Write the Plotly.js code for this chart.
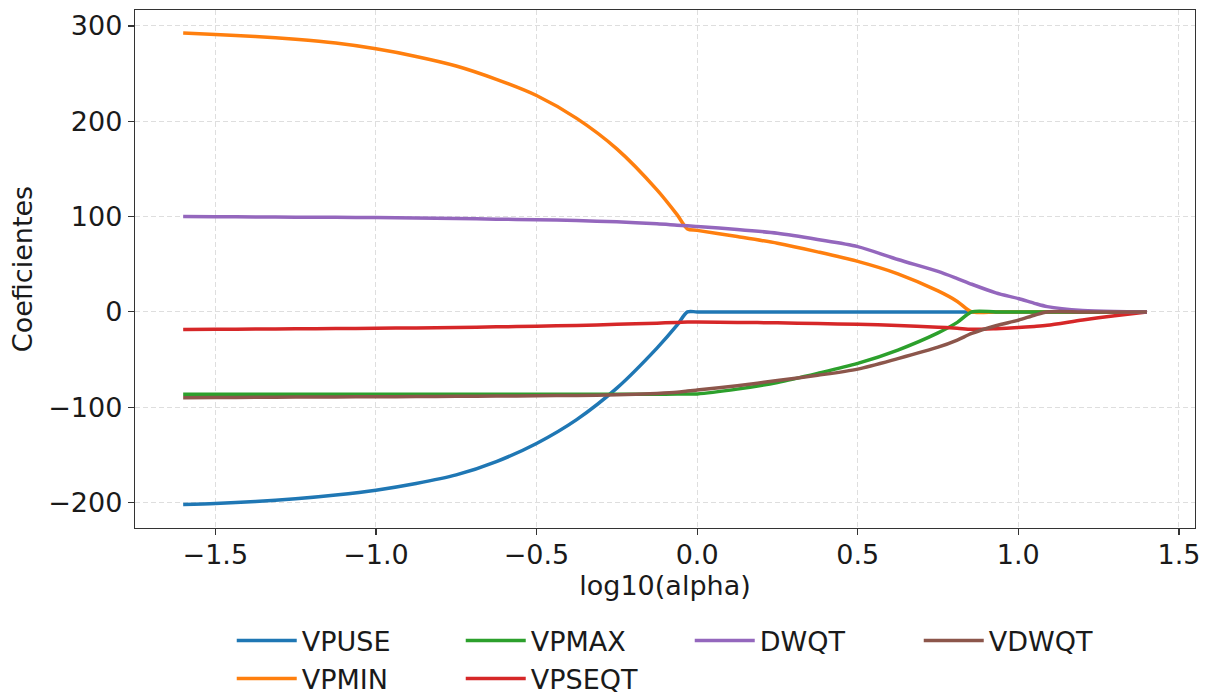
<!DOCTYPE html>
<html>
<head>
<meta charset="utf-8">
<script src="https://cdn.plot.ly/plotly-3.0.1.min.js"></script>
<style>
html,body{margin:0;padding:0;background:#fff;}
#chart{width:1207px;height:695px;}
</style>
</head>
<body>
<div id="chart"></div>
<script>
// log10(alpha) sample points
const logAlpha = [-1.6, -1.5, -1.375, -1.25, -1.125, -1.0, -0.875, -0.75, -0.625, -0.5, -0.375, -0.25, -0.125, -0.0625, -0.03,
                  0.0, 0.125, 0.25, 0.375, 0.5, 0.625, 0.75, 0.81, 0.855, 0.93, 1.0, 1.05, 1.09, 1.2, 1.3, 1.4];

const VPUSE  = [-202, -201, -199, -196, -192, -187, -180, -171, -157, -138, -113, -80, -38, -14, 0,
                0, 0, 0, 0, 0, 0, 0, 0, 0, 0, 0, 0, 0, 0, 0, 0];
const VPMIN  = [292.5, 291, 289, 286, 282, 276, 268, 258, 244, 227, 203, 171, 128, 102, 87,
                85.5, 79, 72, 63, 53, 40, 22, 11, 0, 0, 0, 0, 0, 0, 0, 0];
const VPMAX  = [-86.5, -86.5, -86.5, -86.5, -86.5, -86.5, -86.5, -86.5, -86.5, -86.5, -86.5, -86.5, -86.3, -86.2, -86,
                -86, -81, -74, -64.5, -54, -40, -22, -11, 0, 0, 0, 0, 0, 0, 0, 0];
const VPSEQT = [-18.5, -18.3, -18, -17.8, -17.5, -17.2, -16.8, -16.3, -15.7, -15, -14.2, -13, -11.8, -11, -10.5,
                -10.5, -11, -11.5, -12.2, -13, -14.2, -16, -17.2, -18.3, -17.6, -16.4, -15.2, -14, -8.5, -4, 0];
const DWQT   = [100, 99.8, 99.6, 99.4, 99.2, 99, 98.5, 98, 97.3, 96.7, 95.8, 94.5, 92.5, 91, 90.3,
                89.6, 86.5, 82.5, 76, 68.5, 55, 42.5, 35, 29, 20, 14, 9, 5.5, 1.5, 0.3, 0];
const VDWQT  = [-90, -89.8, -89.6, -89.4, -89.2, -89, -88.8, -88.6, -88.3, -88, -87.6, -87, -85.5, -84.3, -83,
                -82, -77.5, -72, -66.5, -60, -49, -37, -29.5, -22.6, -14.5, -8.7, -3.5, 0, 0, 0, 0];

const seriesNames = ['VPUSE', 'VPMIN', 'VPMAX', 'VPSEQT', 'DWQT', 'VDWQT'];
const seriesValues = [VPUSE, VPMIN, VPMAX, VPSEQT, DWQT, VDWQT];
const colors = ['#1f77b4', '#ff7f0e', '#2ca02c', '#d62728', '#9467bd', '#8c564b'];
// legend laid out column-major in 4 columns x 2 rows
const legendRanks = [1, 5, 2, 6, 3, 4];

const traces = seriesNames.map((n, i) => ({
  type: 'scatter',
  mode: 'lines',
  name: n,
  x: logAlpha,
  y: seriesValues[i],
  line: {color: colors[i], width: 3.5, shape: 'spline', smoothing: 0.8},
  legendrank: legendRanks[i],
  hoverinfo: 'skip'
}));

const fontFam = 'DejaVu Sans, sans-serif';
const txt = '#1a1a1a';
const layout = {
  width: 1207, height: 695,
  margin: {l: 135, r: 12, t: 10, b: 167},
  paper_bgcolor: '#fff', plot_bgcolor: '#fff',
  font: {family: fontFam, size: 27, color: txt},
  showlegend: true,
  legend: {
    orientation: 'h', xref: 'container', yref: 'container',
    x: 0.192, xanchor: 'left', y: 0.113, yanchor: 'top',
    font: {family: fontFam, size: 27, color: txt},
    entrywidth: 154, entrywidthmode: 'pixels', itemwidth: 60,
    bgcolor: 'rgba(0,0,0,0)'
  },
  xaxis: {
    range: [-1.75, 1.55],
    tickvals: [-1.5, -1.0, -0.5, 0.0, 0.5, 1.0, 1.5],
    ticktext: ['\u22121.5', '\u22121.0', '\u22120.5', '0.0', '0.5', '1.0', '1.5'],
    ticks: 'outside', ticklen: 6, tickwidth: 1.2, tickcolor: '#333',
    ticklabelstandoff: -4,
    showline: true, linecolor: '#333', linewidth: 1.2, mirror: true,
    showgrid: true, gridcolor: '#dedede', gridwidth: 1, griddash: '5px,3px',
    zeroline: false, automargin: false,
    tickfont: {family: fontFam, size: 27, color: txt},
    title: {text: 'log10(alpha)', font: {family: fontFam, size: 27, color: txt}, standoff: 2}
  },
  yaxis: {
    range: [-226.7, 316.7],
    tickvals: [-200, -100, 0, 100, 200, 300],
    ticks: 'outside', ticklen: 6, tickwidth: 1.2, tickcolor: '#333',
    showline: true, linecolor: '#333', linewidth: 1.2, mirror: true,
    showgrid: true, gridcolor: '#dedede', gridwidth: 1, griddash: '5px,3px',
    zeroline: false, automargin: false,
    tickfont: {family: fontFam, size: 27, color: txt},
    title: {text: 'Coeficientes', font: {family: fontFam, size: 27, color: txt}, standoff: 7}
  }
};

Plotly.newPlot('chart', traces, layout, {displayModeBar: false, staticPlot: true});
</script>
</body>
</html>
